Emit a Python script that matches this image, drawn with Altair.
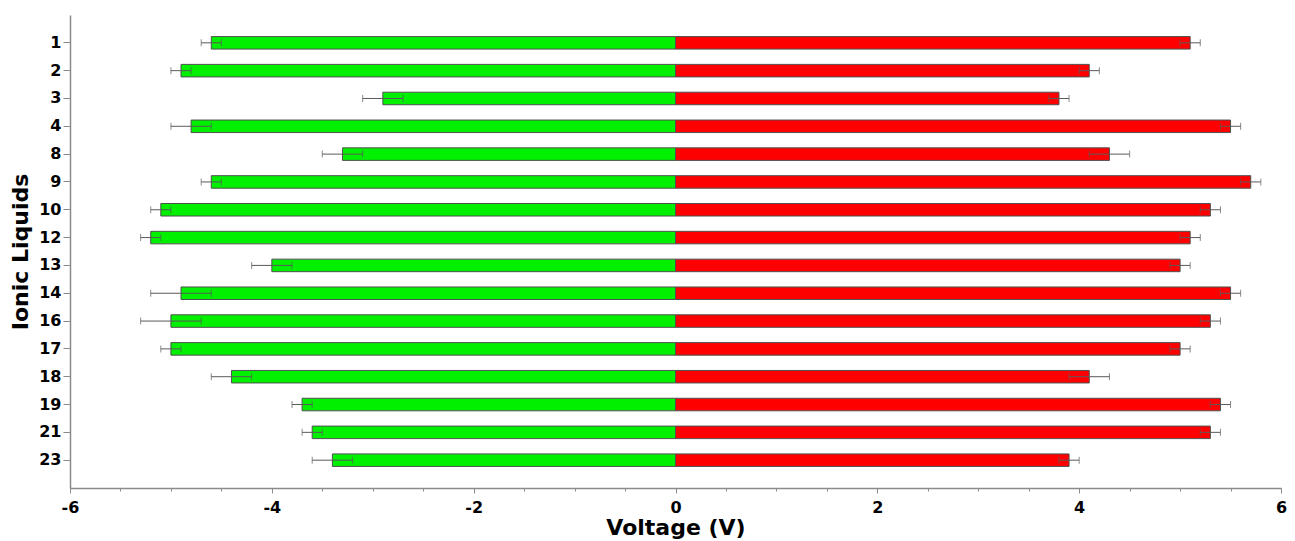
import altair as alt
import pandas as pd

liquids = ["1", "2", "3", "4", "8", "9", "10", "12", "13", "14", "16", "17", "18", "19", "21", "23"]
reduction = [-4.6, -4.9, -2.9, -4.8, -3.3, -4.6, -5.1, -5.2, -4.0, -4.9, -5.0, -5.0, -4.4, -3.7, -3.6, -3.4]
reduction_err = [0.1, 0.1, 0.2, 0.2, 0.2, 0.1, 0.1, 0.1, 0.2, 0.3, 0.3, 0.1, 0.2, 0.1, 0.1, 0.2]
oxidation = [5.1, 4.1, 3.8, 5.5, 4.3, 5.7, 5.3, 5.1, 5.0, 5.5, 5.3, 5.0, 4.1, 5.4, 5.3, 3.9]
oxidation_err = [0.1, 0.1, 0.1, 0.1, 0.2, 0.1, 0.1, 0.1, 0.1, 0.1, 0.1, 0.1, 0.2, 0.1, 0.1, 0.1]

major_ticks = [-6, -4, -2, 0, 2, 4, 6]
minor_ticks = [-6, -5.5, -5, -4.5, -4, -3.5, -3, -2.5, -2, -1.5, -1, -0.5, 0,
               0.5, 1, 1.5, 2, 2.5, 3, 3.5, 4, 4.5, 5, 5.5, 6]

rows = []
for i, lab in enumerate(liquids):
    rows.append({"label": lab, "side": "reduction", "value": reduction[i], "err": reduction_err[i]})
    rows.append({"label": lab, "side": "oxidation", "value": oxidation[i], "err": oxidation_err[i]})
df = pd.DataFrame(rows)

FONT = "DejaVu Sans"
AX = "#8a8a8a"
ERR = "#5a5a5a"

xscale = alt.Scale(domain=[-6, 6], nice=False, zero=False)
yenc = alt.Y(
    "label:N",
    sort=liquids,
    scale=alt.Scale(paddingInner=0.55, paddingOuter=0.775),
    axis=alt.Axis(
        title="Ionic Liquids",
        titleFont=FONT, titleFontSize=22, titleFontWeight="bold", titleColor="black",
        titlePadding=6,
        labelFont=FONT, labelFontSize=16, labelFontWeight="bold", labelColor="black",
        labelPadding=2, tickSize=7, tickColor=AX, domainColor=AX, domainWidth=1.5,
        grid=False,
    ),
)

base = alt.Chart(df)

bars = base.mark_bar(stroke="#505050", strokeWidth=1).encode(
    x=alt.X(
        "value:Q", scale=xscale, stack=None,
        axis=alt.Axis(
            orient="bottom", values=major_ticks, labelExpr="toString(datum.value)",
            title="Voltage (V)",
            titleFont=FONT, titleFontSize=22, titleFontWeight="bold", titleColor="black",
            titlePadding=2,
            labelFont=FONT, labelFontSize=16, labelFontWeight="bold", labelColor="black",
            labelPadding=6, tickSize=5, tickColor=AX, domainColor=AX, domainWidth=1.5,
            grid=False, labelFlush=False,
        ),
    ),
    y=yenc,
    color=alt.Color(
        "side:N",
        scale=alt.Scale(domain=["reduction", "oxidation"], range=["#00f000", "#ff0000"]),
        legend=None,
    ),
)

err_base = base.transform_calculate(
    lo="datum.value - datum.err", hi="datum.value + datum.err"
)

err_line = err_base.mark_rule(color=ERR, strokeWidth=1).encode(
    x=alt.X(
        "lo:Q", scale=xscale,
        axis=alt.Axis(
            orient="bottom", values=minor_ticks, labels=False, title=None,
            tickSize=3, tickColor=AX, domain=False, grid=False,
        ),
    ),
    x2="hi:Q",
    y=alt.Y("label:N", sort=liquids),
)

cap_lo = err_base.mark_tick(color=ERR, thickness=1, size=7).encode(
    x=alt.X("lo:Q", scale=xscale, axis=None),
    y=alt.Y("label:N", sort=liquids),
)
cap_hi = err_base.mark_tick(color=ERR, thickness=1, size=7).encode(
    x=alt.X("hi:Q", scale=xscale, axis=None),
    y=alt.Y("label:N", sort=liquids),
)

chart = (
    alt.layer(bars, err_line, cap_lo, cap_hi)
    .resolve_axis(x="independent")
    .resolve_scale(x="shared")
    .properties(
        width=1211, height=473,
        background="white",
        autosize=alt.AutoSizeParams(type="none"),
        padding={"left": 62, "top": 7, "right": 6, "bottom": 52},
    )
    .configure_view(stroke="transparent", strokeWidth=0)
)

chart.save("out.html", embed_options={"renderer": "svg", "actions": False})
